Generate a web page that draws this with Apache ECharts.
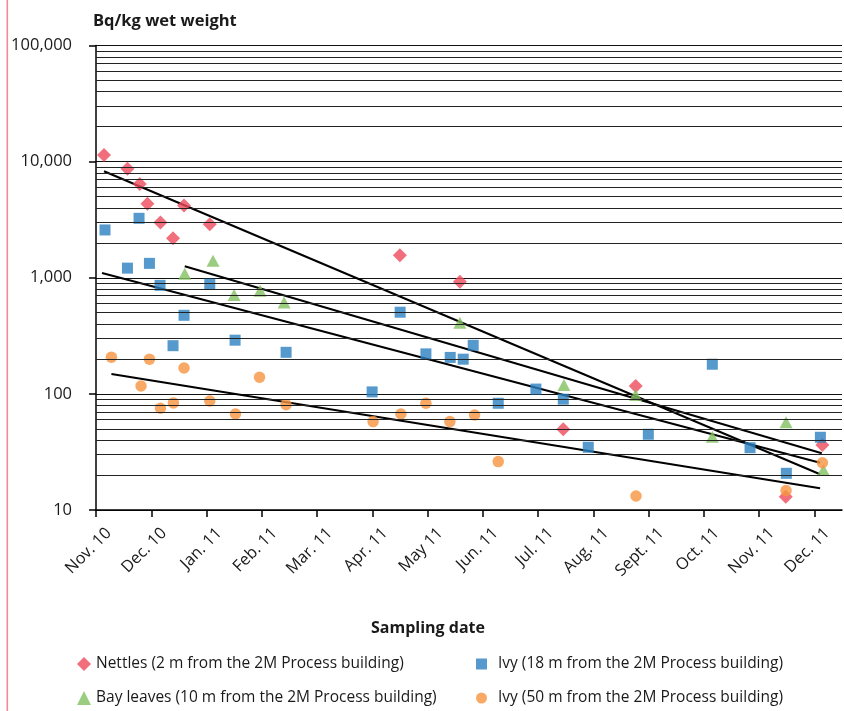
<!DOCTYPE html>
<html>
<head>
<meta charset="utf-8">
<script src="https://cdn.jsdelivr.net/npm/echarts@6/dist/echarts.min.js"></script>
<style>html,body{margin:0;padding:0;background:#fff}#c{width:844px;height:711px}</style>
</head>
<body>
<div id="c"></div>
<script>
// Month tick labels (x = months since Nov 2010)
const monthLabels = ['Nov. 10','Dec. 10','Jan. 11','Feb. 11','Mar. 11','Apr. 11','May 11','Jun. 11','Jul. 11','Aug. 11','Sept. 11','Oct. 11','Nov. 11','Dec. 11'];

// Series: [month position, Bq/kg]
const nettles = [[0.145,11400],[0.569,8700],[0.791,6430],[0.931,4330],[1.166,2990],[1.394,2190],[1.593,4180],[2.059,2890],[5.499,1560],[6.585,925],[8.456,49.5],[9.766,117],[12.482,13.0],[13.145,36.3]];
const ivy18 = [[0.163,2580],[0.779,3250],[0.569,1210],[0.967,1330],[1.159,860],[2.059,880],[1.593,475],[1.394,260],[2.517,290],[3.440,228],[4.997,104],[5.504,505],[5.970,221],[6.410,206],[6.645,199],[6.826,262],[7.279,83],[7.961,110],[8.456,90],[8.908,34.7],[9.995,44.9],[11.153,180],[11.836,34.4],[12.493,20.7],[13.109,42.3]];
const bayLeaves = [[1.606,1084],[2.118,1403],[2.499,711],[2.969,774],[3.404,611],[6.585,410],[8.468,119],[9.766,98],[11.153,42.8],[12.488,56.9],[13.163,22.1]];
const ivy50 = [[0.279,207],[0.967,199],[0.815,117],[1.166,75.2],[1.401,83.6],[1.593,167],[2.059,86.9],[2.524,67.1],[2.959,139],[3.440,80.7],[5.015,57.7],[5.517,67.1],[5.970,83.0],[6.404,57.7],[6.851,65.8],[7.279,26.1],[9.772,13.2],[12.488,14.7],[13.145,25.5]];

// Exponential trend lines (start / end)
const trendNettles = [[0.145,8260],[13.103,20.3]];
const trendIvy18 = [[0.109,1099],[13.103,25.5]];
const trendBay = [[1.606,1256],[13.134,30.8]];
const trendIvy50 = [[0.279,148],[13.103,15.4]];

// Minor horizontal gridlines
const minorGrid = [];
for (let d = 10; d < 100000; d *= 10) for (let k = 2; k <= 9; k++) minorGrid.push(k * d);

const FONT = '"Open Sans", "Noto Sans", sans-serif';
const chart = echarts.init(document.getElementById('c'), null, {renderer: 'canvas'});
const names = ['Nettles (2 m from the 2M Process building)','Ivy (18 m from the 2M Process building)','Bay leaves (10 m from the 2M Process building)','Ivy (50 m from the 2M Process building)'];
const colors = ['#EE4B5B','#2B7FC0','#82C160','#F79440'];

function trend(data){
  return {type:'line', data, symbol:'none', silent:true, lineStyle:{color:'#000', width:2}, z:3, animation:false};
}
function legendOf(i, left, top, pad, size){
  return {data:[names[i]], left, top, itemWidth:size, itemHeight:size, selectedMode:false,
    textStyle:{fontFamily:FONT, fontSize:15.5, color:'#1a1a1a', padding:[0,0,0,pad]}};
}

chart.setOption({
  animation:false,
  grid:{left:96, right:2, top:45.5, bottom:201},
  title:[
    {text:'Bq/kg wet weight', left:88, top:8, textStyle:{fontFamily:FONT, fontSize:16.5, fontWeight:'bold', color:'#1a1a1a'}},
    {text:'Sampling date', left:366, top:615, textStyle:{fontFamily:FONT, fontSize:16, fontWeight:'bold', color:'#1a1a1a'}}
  ],
  legend:[legendOf(0,72,651,0,14), legendOf(1,471,651,6,11), legendOf(2,72,685,0,14), legendOf(3,471,685,6,11)],
  xAxis:{type:'value', min:0, max:13.5,
    axisLine:{lineStyle:{color:'#000', width:1.5}},
    axisTick:{length:7, lineStyle:{color:'#000', width:1.5}, customValues:monthLabels.map((_,i)=>i)},
    axisLabel:{customValues:monthLabels.map((_,i)=>i), formatter:v=>monthLabels[Math.round(v)]||'', rotate:45, margin:8,
      verticalAlign:'top', lineHeight:36, fontFamily:FONT, fontSize:16.3, color:'#1a1a1a'},
    splitLine:{show:false}},
  yAxis:{type:'log', logBase:10, min:10, max:100000,
    axisLine:{show:true, lineStyle:{color:'#000', width:1.5}},
    axisTick:{show:true, length:7, lineStyle:{color:'#000', width:1.5}},
    axisLabel:{margin:24, fontFamily:FONT, fontSize:16.5, color:'#1a1a1a',
      formatter:v=>Number(v).toLocaleString('en-US')},
    splitLine:{show:true, lineStyle:{color:'#111', width:1.2}},
    minorTick:{show:false}},
  graphic:[{type:'rect', shape:{x:6.5, y:0, width:1.6, height:711}, style:{fill:'#F08A96'}, silent:true}],
  series:[
    {name:names[0], type:'scatter', data:nettles, symbol:'diamond', symbolSize:14, itemStyle:{color:colors[0]}, z:4,
      markLine:{silent:true, symbol:'none', label:{show:false}, animation:false,
        lineStyle:{color:'#222', width:1, type:'solid'}, data:minorGrid.map(v=>({yAxis:v}))}},
    {name:names[1], type:'scatter', data:ivy18, symbol:'rect', symbolSize:11, itemStyle:{color:colors[1]}, z:4},
    {name:names[2], type:'scatter', data:bayLeaves, symbol:'triangle', symbolSize:[13,12], itemStyle:{color:colors[2]}, z:4},
    {name:names[3], type:'scatter', data:ivy50, symbol:'circle', symbolSize:11.5, itemStyle:{color:colors[3]}, z:4},
    trend(trendNettles), trend(trendIvy18), trend(trendBay), trend(trendIvy50)
  ]
});
</script>
</body>
</html>
